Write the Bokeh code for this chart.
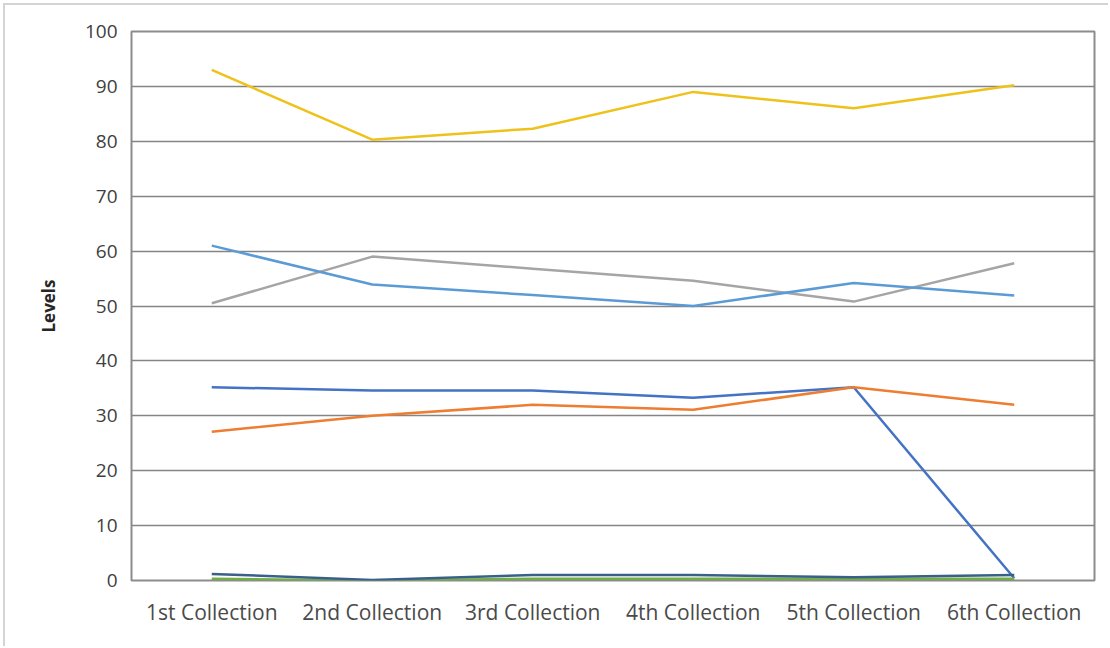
from bokeh.plotting import figure
from bokeh.models import FactorRange, Range1d, SingleIntervalTicker
from bokeh.embed import file_html
from bokeh.resources import INLINE

categories = ["1st Collection", "2nd Collection", "3rd Collection",
              "4th Collection", "5th Collection", "6th Collection"]

series_dark_blue = [35.2, 34.6, 34.6, 33.3, 35.2, 0.4]
series_orange = [27.1, 30.0, 32.0, 31.1, 35.2, 32.0]
series_gray = [50.5, 59.0, 56.8, 54.6, 50.8, 57.8]
series_yellow = [93.0, 80.3, 82.3, 89.0, 86.0, 90.2]
series_light_blue = [61.0, 53.9, 52.0, 50.0, 54.2, 51.9]
series_green = [0.3, 0.0, 0.3, 0.3, 0.3, 0.3]
series_navy = [1.2, 0.1, 1.0, 1.0, 0.6, 1.0]

series = [
    (series_dark_blue, "#4472C4"),
    (series_orange, "#ED7D31"),
    (series_gray, "#A5A5A5"),
    (series_yellow, "#EEC21A"),
    (series_light_blue, "#5B9BD5"),
    (series_green, "#70AD47"),
    (series_navy, "#3A5F8A"),
]

p = figure(width=1105, height=643, x_range=FactorRange(*categories),
           y_range=Range1d(0, 100), output_backend="svg", toolbar_location=None,
           min_border_left=126, min_border_right=16, min_border_top=26,
           min_border_bottom=68, margin=(5, 0, 0, 5))
p.styles = {"border-top": "2px solid #d4d4d4", "border-left": "2px solid #d4d4d4",
            "margin-top": "3px", "margin-left": "3px"}

for vals, color in series:
    p.line(categories, vals, line_color=color, line_width=2.5)

p.outline_line_color = "#8c8c8c"
p.outline_line_width = 2
p.xgrid.grid_line_color = None
p.ygrid.grid_line_color = "#858585"
p.ygrid.grid_line_width = 1.5
p.yaxis.ticker = SingleIntervalTicker(interval=10)
p.yaxis.axis_line_color = None
p.xaxis.axis_line_color = None
p.yaxis.major_tick_line_color = None
p.yaxis.minor_tick_line_color = None
p.xaxis.major_tick_line_color = None
p.yaxis.major_label_text_font = "Open Sans"
p.yaxis.major_label_text_font_size = "19px"
p.yaxis.major_label_text_color = "#404040"
p.xaxis.major_label_text_font = "Open Sans"
p.xaxis.major_label_text_font_size = "21px"
p.xaxis.major_label_text_color = "#4a4a4a"
p.xaxis.major_label_standoff = 11
p.yaxis.major_label_standoff = 8
p.yaxis.axis_label = "Levels"
p.yaxis.axis_label_text_font = "Open Sans"
p.yaxis.axis_label_text_font_style = "bold"
p.yaxis.axis_label_text_font_size = "17px"
p.yaxis.axis_label_text_color = "#262626"
p.yaxis.axis_label_standoff = 22

open("out.html", "w").write(file_html(p, INLINE))
